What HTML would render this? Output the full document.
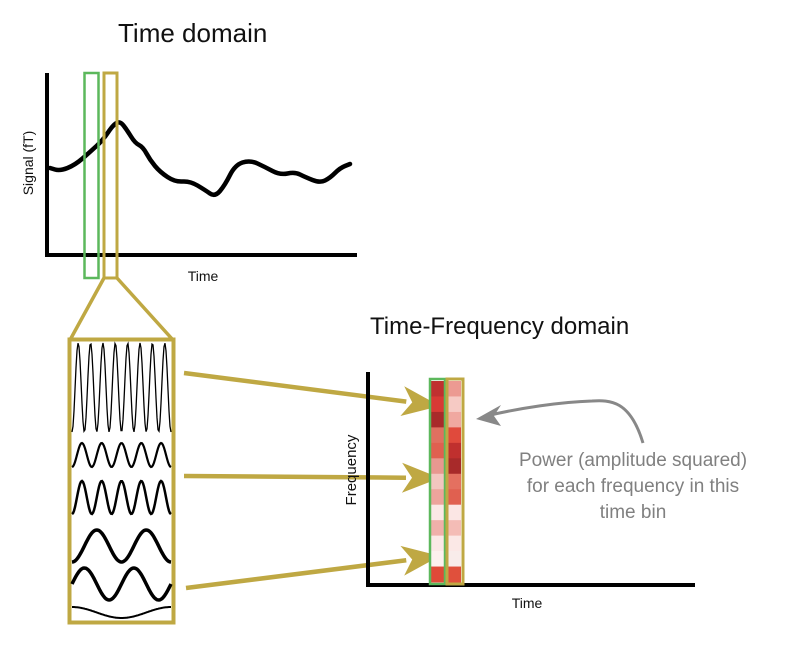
<!DOCTYPE html>
<html><head><meta charset="utf-8"><style>
html,body{margin:0;padding:0;background:#fff}
svg{display:block;font-family:"Liberation Sans",sans-serif}
</style></head><body>
<svg id="fig" width="790" height="648" viewBox="0 0 790 648" xmlns="http://www.w3.org/2000/svg">
<text x="118" y="42" font-size="26" fill="#111">Time domain</text>
<text transform="translate(33,163) rotate(-90)" text-anchor="middle" font-size="14" fill="#111">Signal (fT)</text>
<path d="M47,73 V255 H357" fill="none" stroke="#000" stroke-width="4"/>
<text x="203" y="281" text-anchor="middle" font-size="14" fill="#111">Time</text>
<path id="signal" fill="none" stroke="#000" stroke-width="4.5" stroke-linejoin="round" stroke-linecap="round"/>
<rect x="84.5" y="73" width="14" height="205" fill="none" stroke="#5cb85c" stroke-width="2.5"/>
<rect x="104" y="73" width="13" height="205" fill="none" stroke="#bfa843" stroke-width="3"/>
<path d="M104,278 L70,340 M117,278 L173,340" stroke="#bfa843" stroke-width="3.5" fill="none"/>
<rect x="69.5" y="339.5" width="104" height="283" fill="#fff" stroke="#bfa843" stroke-width="4"/>
<g id="waves"></g>
<g id="arrows"></g>
<text x="370" y="334" font-size="24" fill="#111">Time-Frequency domain</text>
<path d="M368,372 V585 H695" fill="none" stroke="#000" stroke-width="4"/>
<text transform="translate(356,470) rotate(-90)" text-anchor="middle" font-size="15" fill="#111">Frequency</text>
<text x="527" y="608" text-anchor="middle" font-size="14" fill="#111">Time</text>
<g id="cells"></g>
<rect x="430" y="379" width="15" height="205" fill="none" stroke="#5cb85c" stroke-width="2.5"/>
<rect x="447" y="379" width="16" height="205" fill="none" stroke="#bfa843" stroke-width="3"/>
<path d="M643,443 C630,400 610,400 592,401 C560,402 520,408 486,416" fill="none" stroke="#888" stroke-width="3"/>
<path d="M476,419 L501,405 L494,416 L501,426 Z" fill="#888"/>
<g font-size="19" fill="#808080" text-anchor="middle">
<text x="633" y="466">Power (amplitude squared)</text>
<text x="633" y="492">for each frequency in this</text>
<text x="633" y="518">time bin</text>
</g>
</svg>
<script>
const signalX = [50,60,75,90,103,113,120,127,135,143,150,160,175,190,205,215,225,235,250,265,280,295,305,320,330,340,350];
const signalY = [168,171,165,152,140,125,121,130,143,147,160,172,182,181,190,197,185,165,160,167,175,172,177,183,178,168,164];
const leftPower = ['#c03030','#d83a35','#a82a2a','#e07060','#e06050','#e89890','#f3c6c0','#eda49c','#fbe8e6','#f0b0aa','#fbe8e6','#fdf0ee','#e04a38'];
const rightPower = ['#ec9a92','#f6cac4','#f0a8a0','#e04a3c','#c0302e','#a82a2a','#e47060','#e06050','#fbe6e4','#f4bcb6','#fbe8e6','#f8ecea','#e0503c'];
const NS='http://www.w3.org/2000/svg';
// signal line
let d='M'+signalX[0]+','+signalY[0];
for(let i=1;i<signalX.length;i++){const mx=(signalX[i-1]+signalX[i])/2,my=(signalY[i-1]+signalY[i])/2;d+=' Q'+signalX[i-1]+','+signalY[i-1]+' '+mx+','+my;}
d+=' L'+signalX[signalX.length-1]+','+signalY[signalY.length-1];
document.getElementById('signal').setAttribute('d',d);
// waves
const waveBands=[[343,432,8,1.3,0],[443,467,5,2.2,0],[481,514,5,2.5,0],[530,562,2,3.5,0],[568,600,2,3.5,0.25],[607,618,1,2,0.5]];
const wg=document.getElementById('waves');
waveBands.forEach((b,k)=>{let p='';for(let x=72;x<=171;x++){const t=(x-72)/99;const y=(b[0]+b[1])/2+(b[1]-b[0])/2*Math.cos(2*Math.PI*(b[2]*t+b[4]));p+=(x==72?'M':'L')+x+','+y.toFixed(1);}
const el=document.createElementNS(NS,'path');el.setAttribute('d',p);el.setAttribute('fill','none');el.setAttribute('stroke','#000');el.setAttribute('stroke-width',b[3]);


wg.appendChild(el);});
// arrows
const arrowDefs=[[184,373,440,406],[184,476,440,478],[186,588,440,556]];
const ag=document.getElementById('arrows');
arrowDefs.forEach(a=>{const dx=a[2]-a[0],dy=a[3]-a[1],L=Math.hypot(dx,dy),ux=dx/L,uy=dy/L;const bx=a[2]-ux*34,by=a[3]-uy*34;
const ln=document.createElementNS(NS,'line');ln.setAttribute('x1',a[0]);ln.setAttribute('y1',a[1]);ln.setAttribute('x2',bx);ln.setAttribute('y2',by);ln.setAttribute('stroke','#bfa843');ln.setAttribute('stroke-width',4.5);


ag.appendChild(ln);
const h=document.createElementNS(NS,'path');h.setAttribute('d',`M${a[2]},${a[3]} L${bx-uy*15-ux*4},${by+ux*15-uy*4} L${bx+ux*6},${by+uy*6} L${bx+uy*15-ux*4},${by-ux*15-uy*4} Z`);h.setAttribute('fill','#bfa843');


ag.appendChild(h);});
// cells
const cg=document.getElementById('cells');const top0=381,ch=201/13;
[[leftPower,431],[rightPower,448]].forEach(([arr,x])=>arr.forEach((c,i)=>{const r=document.createElementNS(NS,'rect');r.setAttribute('x',x);r.setAttribute('y',top0+i*ch);r.setAttribute('width',13);r.setAttribute('height',ch+0.5);r.setAttribute('fill',c);


cg.appendChild(r);}));
</script>
</body></html>
